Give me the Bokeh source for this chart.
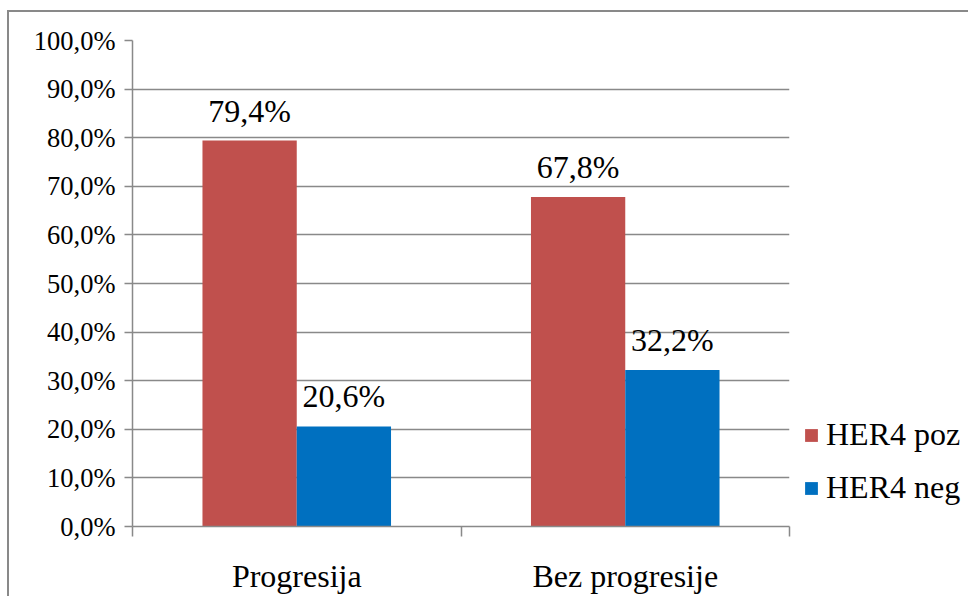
from bokeh.plotting import figure
from bokeh.models import (ColumnDataSource, Range1d, LinearAxis, FixedTicker,
                          Legend, LegendItem)
from bokeh.transform import dodge
from bokeh.core.properties import value
from bokeh.embed import file_html
from bokeh.resources import INLINE

categories = ["Progresija", "Bez progresije"]
series_names = ["HER4 poz", "HER4 neg"]
her4_poz = [79.4, 67.8]
her4_neg = [20.6, 32.2]
y_ticks = [0, 10, 20, 30, 40, 50, 60, 70, 80, 90, 100]
y_tick_labels = ["0,0%", "10,0%", "20,0%", "30,0%", "40,0%", "50,0%",
                 "60,0%", "70,0%", "80,0%", "90,0%", "100,0%"]

RED = "#C0504D"
BLUE = "#0070C0"
GRAY = "#898989"
FONT = "Times"

def fmt(v):
    return ("%.1f%%" % v).replace(".", ",")

centers = [i + 0.5 for i in range(len(categories))]
bounds = list(range(len(categories) + 1))

src = ColumnDataSource(dict(
    cat=categories,
    xc=centers,
    poz=her4_poz,
    neg=her4_neg,
    poz_lbl=[fmt(v) for v in her4_poz],
    neg_lbl=[fmt(v) for v in her4_neg],
))

p = figure(frame_width=657, frame_height=486, x_range=Range1d(0, len(categories)),
           y_range=Range1d(0, 100), output_backend="svg", toolbar_location=None,
           x_axis_location=None, y_axis_location=None,
           min_border_left=123, min_border_right=170, min_border_top=28, min_border_bottom=62)
p.styles = {"border-left": "2px solid " + GRAY, "border-top": "2px solid " + GRAY,
            "margin-top": "10px", "margin-left": "7px"}
p.outline_line_color = None
p.background_fill_color = "white"
p.border_fill_color = "white"

bw = 0.287
r1 = p.vbar(x=dodge("xc", -bw / 2), top="poz", width=bw, source=src,
            fill_color=RED, line_color=None)
r2 = p.vbar(x=dodge("xc", bw / 2), top="neg", width=bw, source=src,
            fill_color=BLUE, line_color=None)

p.text(x=dodge("xc", -bw / 2), y="poz", text="poz_lbl", source=src,
       text_align="center", text_baseline="alphabetic", y_offset=-30,
       text_font=value(FONT), text_font_size="32px", text_color="black")
p.text(x=dodge("xc", bw / 2), y="neg", text="neg_lbl", source=src,
       text_align="center", text_baseline="alphabetic", y_offset=-30,
       text_font=value(FONT), text_font_size="32px", text_color="black")

# y axis
yax = LinearAxis(ticker=FixedTicker(ticks=y_ticks, minor_ticks=[]))
yax.major_label_overrides = {t: l for t, l in zip(y_ticks, y_tick_labels)}
yax.axis_line_color = GRAY
yax.axis_line_width = 1.5
yax.major_tick_line_color = GRAY
yax.major_tick_line_width = 1.5
yax.major_tick_out = 8
yax.major_tick_in = 0
yax.minor_tick_line_color = None
yax.major_label_standoff = 9
yax.major_label_text_font = FONT
yax.major_label_text_font_size = "26.5px"
yax.major_label_text_color = "black"
p.add_layout(yax, "left")

# x axis: ticks at category boundaries, labels at category centres
xax = LinearAxis(ticker=FixedTicker(ticks=centers, minor_ticks=bounds))
xax.major_label_overrides = {c: n for c, n in zip(centers, categories)}
xax.axis_line_color = GRAY
xax.axis_line_width = 1.5
xax.major_tick_line_color = None
xax.major_tick_out = 0
xax.major_tick_in = 0
xax.minor_tick_line_color = GRAY
xax.minor_tick_line_width = 1.5
xax.minor_tick_out = 10
xax.minor_tick_in = 0
xax.major_label_standoff = 21
xax.major_label_text_font = FONT
xax.major_label_text_font_size = "32px"
xax.major_label_text_color = "black"
p.add_layout(xax, "below")

p.xgrid.visible = False
p.ygrid.ticker = FixedTicker(ticks=y_ticks)
p.ygrid.grid_line_color = GRAY
p.ygrid.grid_line_width = 1.5

legend = Legend(items=[LegendItem(label=series_names[0], renderers=[r1]),
                       LegendItem(label=series_names[1], renderers=[r2])],
                location=(14, 20), orientation="vertical",
                border_line_color=None, background_fill_alpha=0,
                padding=0, margin=0, spacing=16,
                glyph_width=16, glyph_height=16, label_standoff=7, label_height=36,
                label_text_font=FONT, label_text_font_size="32px", label_text_color="black")
p.add_layout(legend, "right")

open("out.html", "w").write(file_html(p, INLINE))
